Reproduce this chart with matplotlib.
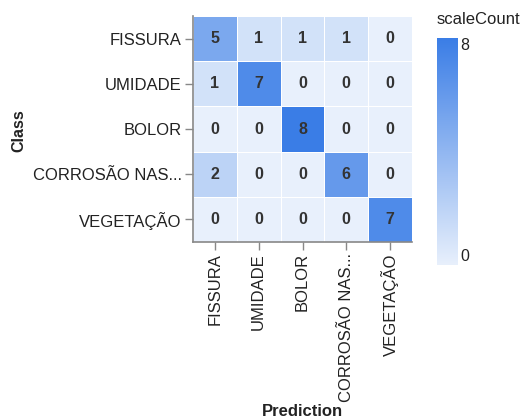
import matplotlib
matplotlib.use('Agg')
import matplotlib.pyplot as plt
import numpy as np
from matplotlib.colors import LinearSegmentedColormap

# confusion matrix data
classes = ["FISSURA", "UMIDADE", "BOLOR", "CORROSÃO NAS...", "VEGETAÇÃO"]
predictions = ["FISSURA", "UMIDADE", "BOLOR", "CORROSÃO NAS...", "VEGETAÇÃO"]
counts = np.array([
    [5, 1, 1, 1, 0],
    [1, 7, 0, 0, 0],
    [0, 0, 8, 0, 0],
    [2, 0, 0, 6, 0],
    [0, 0, 0, 0, 7],
])
vmin, vmax = 0, 8

plt.rcParams['font.family'] = ['Liberation Sans', 'DejaVu Sans']
cmap = LinearSegmentedColormap.from_list('blues', ['#e8f0fc', '#3a7de6'])

fig = plt.figure(figsize=(5.25, 4.19), dpi=100)
W, H = 525, 419
ax = fig.add_axes([193 / W, 1 - 242 / H, 219 / W, 226 / H])

n = len(classes)
ax.pcolormesh(np.arange(n + 1), np.arange(n + 1), counts, cmap=cmap,
              vmin=vmin, vmax=vmax, edgecolor='white', linewidth=0.4)
ax.set_xlim(0, n)
ax.set_ylim(n, 0)

for i in range(n):
    for j in range(n):
        ax.text(j + 0.5, i + 0.5, str(counts[i, j]), ha='center', va='center',
                fontsize=11.5, fontweight='bold', color='#333333')

ax.set_xticks(np.arange(n) + 0.5)
ax.set_yticks(np.arange(n) + 0.5)
ax.set_xticklabels(predictions, rotation=90, fontsize=12, color='#222222')
ax.set_yticklabels(classes, fontsize=12, color='#222222')
ax.tick_params(length=6, width=1, color='#888888', pad=2)
for s in ['top', 'right']:
    ax.spines[s].set_visible(False)
for s in ['left', 'bottom']:
    ax.spines[s].set_color('#888888')
    ax.spines[s].set_linewidth(1.2)

fig.text(19 / W, 1 - 131 / H, 'Class', rotation=90, ha='center', va='center',
         fontsize=11.5, fontweight='bold', color='#222222')
fig.text(302 / W, 1 - 411 / H, 'Prediction', ha='center', va='center',
         fontsize=12, fontweight='bold', color='#222222')

# colour legend
cax = fig.add_axes([437 / W, 1 - 265 / H, 21 / W, 227 / H])
grad = np.linspace(vmin, vmax, 256).reshape(-1, 1)
cax.imshow(grad, aspect='auto', cmap=cmap, origin='lower',
           extent=[0, 1, vmin, vmax])
cax.set_xticks([])
cax.set_yticks([])
for s in cax.spines.values():
    s.set_visible(False)
fig.text(460 / W, 1 - 45 / H, str(vmax), ha='left', va='center', fontsize=11.5, color='#222222')
fig.text(460 / W, 1 - 256 / H, str(vmin), ha='left', va='center', fontsize=11.5, color='#222222')
fig.text(437 / W, 1 - 20 / H, 'scaleCount', ha='left', va='center', fontsize=12, color='#222222')

plt.savefig('out.png', dpi=100)
